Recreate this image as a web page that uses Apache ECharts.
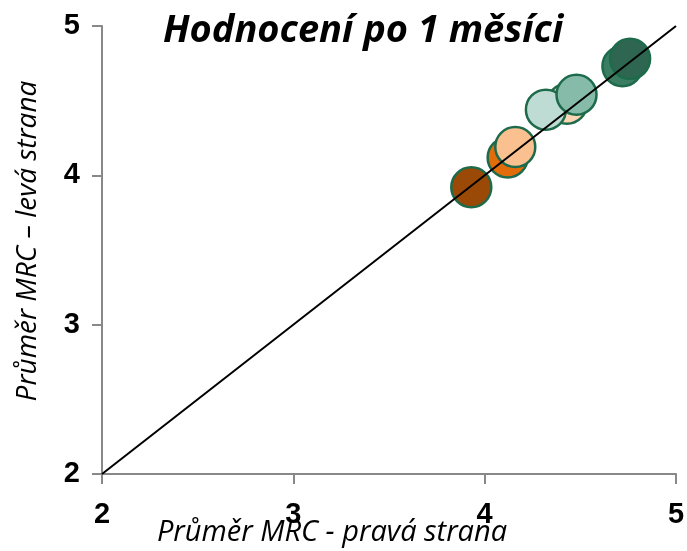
<!DOCTYPE html>
<html lang="cs">
<head>
<meta charset="UTF-8">
<title>Hodnocení po 1 měsíci</title>
<script src="https://cdn.jsdelivr.net/npm/echarts@6/dist/echarts.min.js"></script>
<style>
  html, body { margin: 0; padding: 0; background: #fff; }
  #chart { width: 687px; height: 551px; }
</style>
</head>
<body>
<div id="chart"></div>
<script>
// průměr pravá strana (x) / levá strana (y)
var rightAvg = [3.93, 4.12, 4.16, 4.43, 4.32, 4.48, 4.72, 4.76];
var leftAvg  = [3.92, 4.12, 4.19, 4.48, 4.44, 4.54, 4.73, 4.78];
var diagonal = [[2, 2], [5, 5]];
var axisTicks = [2, 3, 4, 5];

var fills = ['#9a4a06', '#e36c0a', '#fac090', '#fcd5b4', '#bfdcd4', '#86bbaa', '#3b7d62', '#2e6651'];

var points = rightAvg.map(function (x, i) {
  return { value: [x, leftAvg[i]], itemStyle: { color: fills[i] } };
});

var chart = echarts.init(document.getElementById('chart'));
chart.setOption({
  animation: false,
  title: {
    text: 'Hodnocení po 1 měsíci',
    left: 158, top: 7,
    textStyle: { fontFamily: 'Open Sans', fontStyle: 'italic', fontWeight: 'bold', fontSize: 38, color: '#000' }
  },
  grid: { left: 102, right: 11, top: 26, bottom: 77, containLabel: false, outerBoundsMode: 'none' },
  xAxis: {
    type: 'value', min: axisTicks[0], max: axisTicks[3], interval: 1,
    name: 'Průměr MRC - pravá strana', nameLocation: 'middle', nameGap: 44, nameMoveOverlap: false,
    nameTextStyle: { fontFamily: 'Open Sans', fontStyle: 'italic', fontSize: 29, color: '#000', padding: [0, 114, 0, 0] },
    axisLine: { show: true, onZero: false, lineStyle: { color: '#888', width: 2 } },
    axisTick: { show: true, length: 10, lineStyle: { color: '#888', width: 2 } },
    axisLabel: { margin: 26, fontFamily: 'Liberation Sans', fontWeight: 'bold', fontSize: 29, color: '#000' },
    splitLine: { show: false }
  },
  yAxis: {
    type: 'value', min: axisTicks[0], max: axisTicks[3], interval: 1,
    name: 'Průměr MRC – levá strana', nameLocation: 'middle', nameGap: 60,
    nameTextStyle: { fontFamily: 'Open Sans', fontStyle: 'italic', fontSize: 28, color: '#000', padding: [0, 0, 0, 18] },
    axisLine: { show: true, onZero: false, lineStyle: { color: '#888', width: 2 } },
    axisTick: { show: true, length: 10, lineStyle: { color: '#888', width: 2 } },
    axisLabel: { margin: 22, fontFamily: 'Liberation Sans', fontWeight: 'bold', fontSize: 29, color: '#000' },
    splitLine: { show: false }
  },
  series: [
    {
      type: 'scatter', data: points, symbolSize: 40, z: 2,
      itemStyle: { borderColor: '#1e6b4c', borderWidth: 2.5, opacity: 1 }
    },
    {
      type: 'line', data: diagonal, symbol: 'none', z: 3,
      lineStyle: { color: '#000', width: 2 }
    }
  ]
});
</script>
</body>
</html>
